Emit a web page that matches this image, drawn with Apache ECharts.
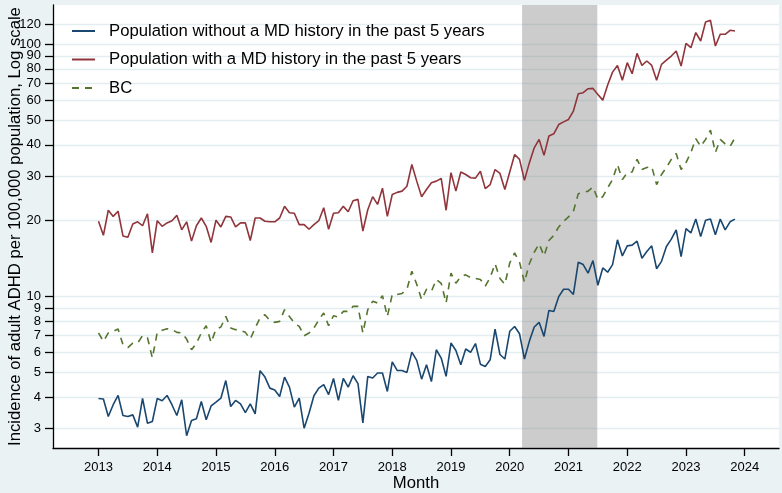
<!DOCTYPE html>
<html><head><meta charset="utf-8">
<script src="https://cdn.jsdelivr.net/npm/echarts@6/dist/echarts.min.js"></script>
<style>html,body{margin:0;padding:0;background:#eaf2f3}#c{width:782px;height:493px}</style>
</head><body><div id="c"></div>
<script>
// Monthly series, first value = January 2013
const startYear = 2013;
const seriesNames = [
  'Population without a MD history in the past 5 years',
  'Population with a MD history in the past 5 years',
  'BC'
];
const withoutMD = [
  3.95, 3.93, 3.35, 3.73, 4.06, 3.38, 3.35, 3.40, 3.04, 3.95, 3.15, 3.20,
  3.95, 3.87, 4.06, 3.73, 3.38, 3.90, 2.81, 3.23, 3.28, 3.84, 3.25, 3.69,
  3.82, 3.96, 4.65, 3.67, 3.88, 3.76, 3.47, 3.76, 3.43, 5.09, 4.80, 4.34,
  4.27, 4.02, 4.80, 4.38, 3.65, 3.96, 3.01, 3.45, 4.05, 4.34, 4.48, 4.09,
  4.74, 3.88, 4.74, 4.38, 4.86, 4.52, 3.16, 4.83, 4.76, 4.98, 4.98, 4.21,
  5.51, 5.10, 5.10, 5.01, 6.03, 5.59, 4.71, 5.37, 4.61, 6.16, 5.71, 4.83,
  6.55, 6.12, 5.37, 6.20, 6.02, 6.52, 5.40, 5.29, 5.62, 7.44, 5.90, 5.66,
  7.29, 7.62, 7.13, 5.66, 6.65, 7.58, 7.91, 6.96, 8.82, 8.74, 10.0, 10.7,
  10.7, 10.2, 13.7, 13.4, 12.4, 13.9, 11.1, 13.0, 12.5, 13.4, 16.8, 14.5,
  15.9, 16.0, 16.6, 14.2, 15.1, 15.9, 12.9, 13.8, 15.8, 16.9, 18.4, 14.4,
  18.6, 17.9, 20.3, 17.3, 20.1, 20.3, 17.6, 20.3, 18.4, 19.8, 20.3
];
const withMD = [
  19.9, 17.5, 22.0, 20.8, 21.8, 17.4, 17.2, 19.4, 19.8, 19.1, 21.3, 14.9,
  20.0, 19.0, 19.6, 20.0, 21.0, 18.4, 19.8, 16.6, 19.1, 20.5, 19.0, 16.4,
  20.1, 18.9, 20.8, 20.7, 18.9, 19.6, 19.6, 16.7, 20.5, 20.5, 19.9, 19.8,
  19.8, 20.5, 22.8, 21.5, 21.4, 19.3, 19.3, 18.5, 19.3, 20.0, 22.5, 18.5,
  21.4, 21.5, 22.8, 21.7, 24.0, 24.3, 18.2, 22.1, 24.9, 23.2, 26.9, 20.8,
  25.4, 25.9, 26.2, 27.4, 33.4, 28.7, 24.9, 26.6, 28.3, 28.7, 29.4, 22.0,
  31.0, 26.2, 31.2, 30.5, 29.6, 29.5, 31.4, 26.8, 27.8, 31.9, 30.8, 26.6,
  31.2, 36.6, 35.0, 28.9, 33.9, 38.9, 42.0, 36.3, 43.3, 44.2, 48.1, 49.3,
  50.4, 54.4, 63.7, 64.3, 66.7, 66.9, 63.3, 60.1, 69.0, 77.6, 82.5, 72.1,
  84.6, 76.5, 92.1, 82.5, 85.9, 82.5, 72.1, 83.3, 86.6, 89.9, 94.1, 82.0,
  100.9, 97.0, 111.3, 103.1, 122.6, 124.5, 98.5, 109.6, 109.6, 113.7, 113.0
];
const bc = [
  7.18, 6.65, 7.18, 7.29, 7.44, 6.45, 6.28, 6.54, 6.54, 7.02, 6.88, 5.71,
  7.22, 7.36, 7.46, 7.41, 7.22, 7.18, 6.79, 6.16, 6.54, 7.18, 7.67, 6.58,
  7.44, 7.58, 8.35, 7.51, 7.40, 7.36, 7.22, 6.79, 7.51, 8.23, 8.48, 8.05,
  7.91, 7.98, 8.88, 8.35, 7.86, 7.62, 7.00, 7.18, 7.51, 8.10, 8.62, 7.67,
  8.40, 8.30, 8.74, 8.74, 9.15, 9.15, 7.18, 8.88, 9.58, 9.44, 10.1, 8.35,
  10.2, 10.2, 10.3, 10.7, 12.6, 11.2, 9.73, 10.7, 10.5, 11.7, 11.3, 9.44,
  12.4, 11.3, 12.0, 12.2, 11.9, 11.8, 11.7, 11.0, 11.9, 13.5, 11.8, 11.2,
  13.6, 14.9, 13.7, 11.4, 13.5, 15.0, 16.2, 14.5, 16.7, 17.5, 18.9, 19.9,
  20.7, 21.8, 25.6, 25.9, 26.2, 27.2, 24.3, 24.9, 27.0, 29.1, 33.4, 29.1,
  31.0, 31.2, 35.0, 31.9, 32.5, 32.8, 27.8, 30.5, 32.5, 35.0, 36.9, 31.9,
  34.0, 37.3, 42.3, 39.4, 42.0, 45.7, 37.3, 42.0, 40.3, 39.4, 42.6
];
const yTicks = [3, 4, 5, 6, 7, 8, 9, 10, 20, 30, 40, 50, 60, 70, 80, 90, 100, 120];
const xTicks = [2013, 2014, 2015, 2016, 2017, 2018, 2019, 2020, 2021, 2022, 2023, 2024];
const shadedPeriod = [2020.21, 2021.49];
const yRange = [2.513, 143.2];
const xRange = [2012.2255, 2024.583];

const FONT = "'Liberation Sans', Arial, sans-serif";
const colors = ['#1a476f', '#90353b', '#55752f'];
function toPoints(arr) { return arr.map((v, i) => [startYear + i / 12, Math.log10(v)]); }
const yTickLog = yTicks.map(v => Math.log10(v));

const chart = echarts.init(document.getElementById('c'), null, { renderer: 'canvas' });
chart.setOption({
  backgroundColor: '#eaf2f3',
  animation: false,
  grid: { left: 53, right: 3, top: 5, bottom: 45, show: true, backgroundColor: '#ffffff', borderWidth: 0,
    containLabel: false, outerBoundsMode: 'none' },
  legend: {
    orient: 'vertical', left: 71, top: 22, padding: 0, itemWidth: 23, itemHeight: 14, itemGap: 10.5,
    itemStyle: { opacity: 0 },
    textStyle: { fontFamily: FONT, fontSize: 16.7, color: '#000', lineHeight: 18, padding: [0, 0, 0, 9] },
    data: seriesNames
  },
  xAxis: {
    type: 'value', min: xRange[0], max: xRange[1],
    name: 'Month', nameLocation: 'middle', nameGap: 27, nameMoveOverlap: false,
    nameTextStyle: { fontFamily: FONT, fontSize: 16.7, color: '#000' },
    axisLine: { show: true, onZero: false, lineStyle: { color: '#000', width: 1.3 } },
    axisTick: { show: true, length: 8, customValues: xTicks, lineStyle: { color: '#000', width: 1.3 } },
    axisLabel: { customValues: xTicks, margin: 13, fontFamily: FONT, fontSize: 13, color: '#000', formatter: v => String(v) },
    splitLine: { show: false }
  },
  yAxis: {
    type: 'value', min: Math.log10(yRange[0]), max: Math.log10(yRange[1]),
    name: 'Incidence of adult ADHD per 100,000 population, Log scale', nameLocation: 'middle', nameGap: 29,
    nameMoveOverlap: false,
    nameTextStyle: { fontFamily: FONT, fontSize: 16.7, color: '#000' },
    axisLine: { show: true, onZero: false, lineStyle: { color: '#000', width: 1.3 } },
    axisTick: { show: true, length: 8, customValues: yTickLog, lineStyle: { color: '#000', width: 1.3 } },
    axisLabel: { customValues: yTickLog, margin: 12, fontFamily: FONT, fontSize: 13, color: '#000',
      formatter: v => String(Math.round(Math.pow(10, v))) },
    splitLine: { show: true, lineStyle: { color: '#e4edf0', width: 1.3 } }
  },
  series: [
    { name: seriesNames[0], type: 'line', symbol: 'none', data: toPoints(withoutMD),
      lineStyle: { color: colors[0], width: 1.6 }, itemStyle: { color: colors[0] },
      markArea: { silent: true, itemStyle: { color: 'rgba(128,128,128,0.4)' },
        data: [[{ xAxis: shadedPeriod[0] }, { xAxis: shadedPeriod[1] }]] } },
    { name: seriesNames[1], type: 'line', symbol: 'none', data: toPoints(withMD),
      lineStyle: { color: colors[1], width: 1.6 }, itemStyle: { color: colors[1] } },
    { name: seriesNames[2], type: 'line', symbol: 'none', data: toPoints(bc),
      lineStyle: { color: colors[2], width: 1.6, type: [7, 6] }, itemStyle: { color: colors[2] } }
  ]
});
</script>
</body></html>
